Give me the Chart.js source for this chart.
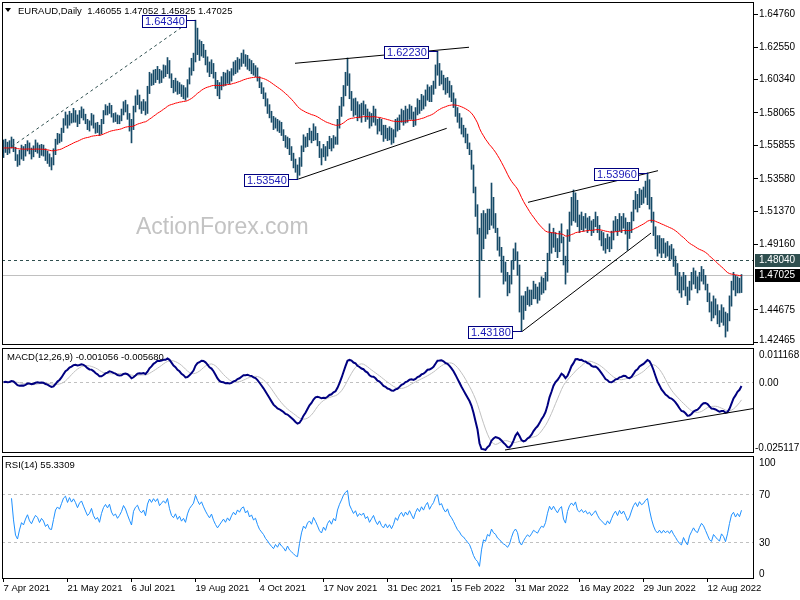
<!DOCTYPE html>
<html>
<head>
<meta charset="utf-8">
<script src="https://cdn.jsdelivr.net/npm/chart.js@4.4.1/dist/chart.umd.min.js"></script>
<style>
  html, body { margin: 0; padding: 0; background: #fff; }
  #wrap { position: relative; width: 800px; height: 600px; overflow: hidden; background: #fff; }
  #wrap canvas { position: absolute; left: 0; }
</style>
</head>
<body>
<div id="wrap">
  <canvas id="price" width="800" height="347" style="top:0"></canvas>
  <canvas id="macd" width="800" height="108" style="top:347px"></canvas>
  <canvas id="rsi" width="800" height="145" style="top:455px"></canvas>
</div>
<script>
// EURAUD daily, 7 Apr 2021 .. early Sep 2022 (one value per trading day)
const closes = [
  1.5565, 1.5590, 1.5545, 1.5580, 1.5610, 1.5560, 1.5495, 1.5470, 1.5505, 1.5540,
  1.5525, 1.5560, 1.5590, 1.5545, 1.5520, 1.5555, 1.5585, 1.5570, 1.5530, 1.5560,
  1.5540, 1.5495, 1.5510, 1.5470, 1.5465, 1.5530, 1.5610, 1.5640, 1.5625, 1.5680,
  1.5745, 1.5770, 1.5730, 1.5790, 1.5760, 1.5800, 1.5775, 1.5740, 1.5790, 1.5815,
  1.5780, 1.5745, 1.5710, 1.5730, 1.5775, 1.5720, 1.5690, 1.5705, 1.5665, 1.5740,
  1.5800, 1.5835, 1.5810, 1.5850, 1.5790, 1.5760, 1.5775, 1.5740, 1.5765, 1.5800,
  1.5860, 1.5835, 1.5790, 1.5745, 1.5700, 1.5830, 1.5880, 1.5905, 1.5860, 1.5840,
  1.5870, 1.5820, 1.5960, 1.6040, 1.6010, 1.6070, 1.6045, 1.6090, 1.6030, 1.6065,
  1.6100, 1.6080, 1.6150, 1.6060, 1.5990, 1.5965, 1.6010, 1.5950, 1.5985, 1.5930,
  1.5960, 1.5915, 1.6010, 1.6080, 1.6120, 1.6160, 1.6300, 1.6250, 1.6210, 1.6255,
  1.6205, 1.6160, 1.6120, 1.6085, 1.6130, 1.6060, 1.6005, 1.5960, 1.5990, 1.6020,
  1.6050, 1.6015, 1.6060, 1.6030, 1.6080, 1.6120, 1.6095, 1.6150, 1.6130, 1.6175,
  1.6190, 1.6140, 1.6165, 1.6110, 1.6130, 1.6085, 1.6100, 1.6040, 1.5990, 1.5960,
  1.5930, 1.5880, 1.5845, 1.5800, 1.5760, 1.5720, 1.5745, 1.5700, 1.5725, 1.5680,
  1.5650, 1.5590, 1.5620, 1.5550, 1.5510, 1.5470, 1.5420, 1.5400, 1.5480, 1.5560,
  1.5620, 1.5590, 1.5640, 1.5660, 1.5625, 1.5690, 1.5650, 1.5600, 1.5540, 1.5510,
  1.5560, 1.5520, 1.5580, 1.5610, 1.5570, 1.5625, 1.5600, 1.5720, 1.5800, 1.5870,
  1.5960, 1.6020, 1.6060, 1.5920, 1.5870, 1.5820, 1.5860, 1.5790, 1.5830, 1.5810,
  1.5840, 1.5775, 1.5800, 1.5730, 1.5770, 1.5810, 1.5745, 1.5700, 1.5740, 1.5680,
  1.5650, 1.5690, 1.5640, 1.5670, 1.5620, 1.5660, 1.5730, 1.5700, 1.5760, 1.5790,
  1.5750, 1.5800, 1.5770, 1.5820, 1.5780, 1.5740, 1.5810, 1.5860, 1.5830, 1.5890,
  1.5860, 1.5920, 1.5960, 1.5900, 1.5950, 1.5990, 1.6080, 1.6120, 1.6030, 1.6050,
  1.6000, 1.5970, 1.6010, 1.5950, 1.5920, 1.5880, 1.5830, 1.5780, 1.5750, 1.5700,
  1.5680, 1.5640, 1.5600, 1.5560, 1.5460, 1.5300, 1.5150, 1.5050, 1.4700, 1.4900,
  1.5050, 1.5000, 1.5110, 1.5060, 1.5180, 1.5080, 1.5040, 1.4930, 1.4880, 1.4800,
  1.4740, 1.4700, 1.4620, 1.4660, 1.4750, 1.4830, 1.4870, 1.4790, 1.4520, 1.4420,
  1.4480, 1.4530, 1.4570, 1.4520, 1.4560, 1.4610, 1.4580, 1.4550, 1.4600, 1.4640,
  1.4620, 1.4680, 1.4820, 1.4950, 1.4900, 1.4970, 1.4920, 1.4880, 1.4950, 1.4990,
  1.4810, 1.4740, 1.4950, 1.5080, 1.5150, 1.5110, 1.5200, 1.5070, 1.5040, 1.5090,
  1.5040, 1.5080, 1.5030, 1.5060, 1.5010, 1.5050, 1.5090, 1.5030, 1.4980, 1.4950,
  1.4920, 1.4890, 1.4940, 1.4900, 1.4960, 1.5020, 1.5060, 1.5010, 1.5080, 1.5040,
  1.5080, 1.5030, 1.4970, 1.5010, 1.5090, 1.5170, 1.5220, 1.5180, 1.5260, 1.5230,
  1.5250, 1.5300, 1.5330, 1.5220, 1.5110, 1.5010, 1.4930, 1.4890, 1.4920, 1.4870,
  1.4900, 1.4860, 1.4880, 1.4840, 1.4870, 1.4810, 1.4760, 1.4700, 1.4650, 1.4620,
  1.4680, 1.4600, 1.4540, 1.4620, 1.4660, 1.4700, 1.4650, 1.4630, 1.4680, 1.4720,
  1.4690, 1.4630, 1.4560, 1.4480, 1.4450, 1.4510, 1.4470, 1.4430, 1.4400, 1.4460,
  1.4420, 1.4330, 1.4400, 1.4510, 1.4620, 1.4660, 1.4600, 1.4650, 1.4610, 1.47025
];
const highs = [
  1.5620, 1.5625, 1.5605, 1.5615, 1.5640, 1.5625, 1.5570, 1.5520, 1.5550, 1.5585,
  1.5575, 1.5590, 1.5615, 1.5600, 1.5565, 1.5580, 1.5620, 1.5600, 1.5585, 1.5590,
  1.5585, 1.5560, 1.5545, 1.5525, 1.5500, 1.5560, 1.5625, 1.5665, 1.5660, 1.5700,
  1.5765, 1.5810, 1.5790, 1.5815, 1.5800, 1.5835, 1.5820, 1.5790, 1.5820, 1.5845,
  1.5830, 1.5795, 1.5760, 1.5750, 1.5800, 1.5790, 1.5735, 1.5740, 1.5720, 1.5760,
  1.5820, 1.5860, 1.5850, 1.5870, 1.5855, 1.5800, 1.5805, 1.5790, 1.5785, 1.5830,
  1.5880, 1.5890, 1.5860, 1.5800, 1.5760, 1.5850, 1.5920, 1.5960, 1.5925, 1.5880,
  1.5895, 1.5880, 1.5985, 1.6080, 1.6070, 1.6095, 1.6100, 1.6120, 1.6100, 1.6090,
  1.6130, 1.6125, 1.6180, 1.6160, 1.6070, 1.6025, 1.6040, 1.6020, 1.6010, 1.5995,
  1.5990, 1.5975, 1.6030, 1.6110, 1.6175, 1.6210, 1.6434, 1.6380, 1.6300, 1.6290,
  1.6270, 1.6230, 1.6185, 1.6150, 1.6165, 1.6140, 1.6080, 1.6025, 1.6010, 1.6050,
  1.6080, 1.6075, 1.6095, 1.6085, 1.6105, 1.6150, 1.6160, 1.6180, 1.6170, 1.6210,
  1.6232, 1.6200, 1.6195, 1.6170, 1.6160, 1.6140, 1.6125, 1.6110, 1.6050, 1.6010,
  1.5975, 1.5940, 1.5900, 1.5860, 1.5815, 1.5780, 1.5770, 1.5760, 1.5750, 1.5740,
  1.5690, 1.5650, 1.5640, 1.5630, 1.5575, 1.5530, 1.5490, 1.5450, 1.5500, 1.5580,
  1.5655, 1.5640, 1.5665, 1.5700, 1.5680, 1.5730, 1.5710, 1.5665, 1.5610, 1.5560,
  1.5590, 1.5575, 1.5610, 1.5645, 1.5630, 1.5650, 1.5640, 1.5760, 1.5850, 1.5910,
  1.5990, 1.6080, 1.6177, 1.6070, 1.5950, 1.5900, 1.5905, 1.5880, 1.5860, 1.5870,
  1.5885, 1.5860, 1.5830, 1.5810, 1.5800, 1.5850, 1.5830, 1.5760, 1.5770, 1.5760,
  1.5720, 1.5720, 1.5700, 1.5710, 1.5700, 1.5690, 1.5760, 1.5770, 1.5790, 1.5830,
  1.5820, 1.5850, 1.5830, 1.5860, 1.5850, 1.5810, 1.5840, 1.5900, 1.5890, 1.5930,
  1.5920, 1.5960, 1.5995, 1.5980, 1.5990, 1.6020, 1.6130, 1.6223, 1.6140, 1.6090,
  1.6060, 1.6040, 1.6045, 1.6020, 1.5990, 1.5940, 1.5900, 1.5840, 1.5800, 1.5770,
  1.5720, 1.5700, 1.5660, 1.5600, 1.5550, 1.5450, 1.5300, 1.5180, 1.5020, 1.5120,
  1.5140, 1.5120, 1.5150, 1.5150, 1.5327, 1.5230, 1.5120, 1.5020, 1.4960, 1.4890,
  1.4830, 1.4790, 1.4720, 1.4700, 1.4800, 1.4880, 1.4920, 1.4860, 1.4770, 1.4560,
  1.4560, 1.4590, 1.4620, 1.4600, 1.4600, 1.4660, 1.4640, 1.4620, 1.4650, 1.4690,
  1.4680, 1.4720, 1.4850, 1.5050, 1.4990, 1.5020, 1.4990, 1.4950, 1.5000, 1.5050,
  1.4960, 1.4830, 1.5010, 1.5130, 1.5230, 1.5280, 1.5260, 1.5210, 1.5110, 1.5130,
  1.5100, 1.5120, 1.5090, 1.5100, 1.5070, 1.5080, 1.5130, 1.5100, 1.5040, 1.5000,
  1.4990, 1.4950, 1.4980, 1.4960, 1.5000, 1.5070, 1.5100, 1.5080, 1.5120, 1.5100,
  1.5120, 1.5090, 1.5060, 1.5060, 1.5130, 1.5210, 1.5270, 1.5250, 1.5290, 1.5280,
  1.5300, 1.5340, 1.5396, 1.5350, 1.5230, 1.5130, 1.5030, 1.4970, 1.4970, 1.4950,
  1.4950, 1.4920, 1.4930, 1.4900, 1.4910, 1.4880, 1.4830, 1.4780, 1.4720, 1.4690,
  1.4720, 1.4700, 1.4620, 1.4660, 1.4720, 1.4750, 1.4730, 1.4690, 1.4720, 1.4760,
  1.4740, 1.4700, 1.4640, 1.4580, 1.4520, 1.4560, 1.4540, 1.4500, 1.4460, 1.4500,
  1.4480, 1.4450, 1.4440, 1.4560, 1.4660, 1.4720, 1.4700, 1.4690, 1.4680, 1.47052
];
const lows = [
  1.5500, 1.5535, 1.5520, 1.5530, 1.5565, 1.5540, 1.5480, 1.5440, 1.5450, 1.5490,
  1.5480, 1.5510, 1.5545, 1.5525, 1.5490, 1.5505, 1.5540, 1.5530, 1.5500, 1.5515,
  1.5510, 1.5480, 1.5460, 1.5440, 1.5416, 1.5450, 1.5520, 1.5590, 1.5600, 1.5610,
  1.5670, 1.5720, 1.5700, 1.5720, 1.5735, 1.5740, 1.5740, 1.5710, 1.5730, 1.5770,
  1.5755, 1.5730, 1.5690, 1.5680, 1.5720, 1.5700, 1.5665, 1.5670, 1.5650, 1.5660,
  1.5730, 1.5790, 1.5790, 1.5800, 1.5775, 1.5740, 1.5745, 1.5730, 1.5730, 1.5750,
  1.5790, 1.5810, 1.5760, 1.5680, 1.5600, 1.5690, 1.5810, 1.5860, 1.5830, 1.5800,
  1.5820, 1.5790, 1.5800, 1.5935, 1.5990, 1.5995, 1.6010, 1.6030, 1.6005, 1.6010,
  1.6040, 1.6050, 1.6070, 1.6040, 1.5975, 1.5940, 1.5950, 1.5930, 1.5935, 1.5915,
  1.5900, 1.5890, 1.5910, 1.6000, 1.6060, 1.6090, 1.6150, 1.6200, 1.6160, 1.6190,
  1.6180, 1.6130, 1.6080, 1.6050, 1.6070, 1.6040, 1.5970, 1.5920, 1.5900, 1.5960,
  1.5985, 1.5990, 1.6005, 1.6000, 1.6020, 1.6060, 1.6070, 1.6080, 1.6100, 1.6120,
  1.6140, 1.6120, 1.6100, 1.6090, 1.6070, 1.6060, 1.6050, 1.6020, 1.5975, 1.5935,
  1.5900, 1.5850, 1.5800, 1.5770, 1.5740, 1.5690, 1.5700, 1.5680, 1.5670, 1.5650,
  1.5615, 1.5570, 1.5560, 1.5520, 1.5480, 1.5430, 1.5400, 1.5354, 1.5380, 1.5440,
  1.5540, 1.5570, 1.5575, 1.5620, 1.5600, 1.5615, 1.5620, 1.5580, 1.5500, 1.5450,
  1.5505, 1.5480, 1.5510, 1.5560, 1.5545, 1.5565, 1.5590, 1.5590, 1.5700, 1.5780,
  1.5850, 1.5920, 1.5990, 1.5900, 1.5820, 1.5780, 1.5790, 1.5750, 1.5770, 1.5740,
  1.5790, 1.5745, 1.5760, 1.5700, 1.5715, 1.5740, 1.5720, 1.5660, 1.5680, 1.5655,
  1.5610, 1.5630, 1.5615, 1.5620, 1.5590, 1.5600, 1.5640, 1.5680, 1.5690, 1.5740,
  1.5720, 1.5735, 1.5740, 1.5760, 1.5760, 1.5710, 1.5720, 1.5790, 1.5800, 1.5820,
  1.5830, 1.5850, 1.5890, 1.5880, 1.5880, 1.5930, 1.5970, 1.6060, 1.5990, 1.6000,
  1.5960, 1.5930, 1.5940, 1.5910, 1.5880, 1.5840, 1.5780, 1.5740, 1.5700, 1.5660,
  1.5640, 1.5600, 1.5560, 1.5520, 1.5420, 1.5260, 1.5100, 1.4980, 1.4550, 1.4800,
  1.4880, 1.4950, 1.4980, 1.5010, 1.5040, 1.5020, 1.4990, 1.4870, 1.4830, 1.4720,
  1.4640, 1.4660, 1.4560, 1.4580, 1.4640, 1.4740, 1.4800, 1.4700, 1.4450, 1.4318,
  1.4400, 1.4460, 1.4500, 1.4490, 1.4500, 1.4540, 1.4540, 1.4510, 1.4530, 1.4570,
  1.4580, 1.4600, 1.4660, 1.4800, 1.4850, 1.4890, 1.4860, 1.4820, 1.4860, 1.4920,
  1.4770, 1.4640, 1.4720, 1.4930, 1.5040, 1.5070, 1.5060, 1.5030, 1.4990, 1.5010,
  1.5000, 1.5020, 1.4990, 1.5010, 1.4970, 1.4990, 1.5030, 1.4990, 1.4940, 1.4900,
  1.4870, 1.4850, 1.4880, 1.4860, 1.4880, 1.4940, 1.5000, 1.4970, 1.5000, 1.4990,
  1.5020, 1.4980, 1.4870, 1.4950, 1.4990, 1.5070, 1.5150, 1.5130, 1.5160, 1.5180,
  1.5190, 1.5230, 1.5180, 1.5150, 1.5060, 1.4970, 1.4880, 1.4830, 1.4850, 1.4820,
  1.4850, 1.4820, 1.4830, 1.4800, 1.4810, 1.4760, 1.4700, 1.4600, 1.4580, 1.4550,
  1.4600, 1.4560, 1.4500, 1.4530, 1.4600, 1.4640, 1.4610, 1.4580, 1.4600, 1.4660,
  1.4640, 1.4600, 1.4520, 1.4450, 1.4390, 1.4410, 1.4430, 1.4370, 1.4350, 1.4380,
  1.4360, 1.4280, 1.4320, 1.4390, 1.4490, 1.4600, 1.4560, 1.4580, 1.4580, 1.45825
];

// x-axis date labels (every 32nd bar)
const dateTicks = [0, 32, 64, 96, 128, 160, 192, 224, 256, 288, 320, 352];
const dateLabels = ['7 Apr 2021', '21 May 2021', '6 Jul 2021', '19 Aug 2021', '4 Oct 2021', '17 Nov 2021',
  '31 Dec 2021', '15 Feb 2022', '31 Mar 2022', '16 May 2022', '29 Jun 2022', '12 Aug 2022'];

// right-axis labels
const priceTicks = [1.64760, 1.62550, 1.60340, 1.58065, 1.55855, 1.53580, 1.51370, 1.49160, 1.44675, 1.42465];
const macdTicks = [0.011168, 0, -0.025117];
const macdTickText = ['0.011168', '0.00', '-0.025117'];
const rsiTicks = [100, 70, 30, 0];

// marked swing points
const pivotIdx = [96, 147, 217, 259, 322];
const pivotPrice = [1.64340, 1.53540, 1.62230, 1.43180, 1.53960];

// drawn trend lines: [startBar, startValue, endBar, endValue]
const trendLines = [
  [1.75, 1.5552, 92.4, 1.6417],
  [147.4, 1.5354, 221.6, 1.5699],
  [145.75, 1.6141, 232.75, 1.6250],
  [259.3, 1.4318, 323.75, 1.4987],
  [262.25, 1.5196, 327.25, 1.5411]
];
const macdTrend = [250.75, -0.02451, 375.75, -0.00942];
const resistLevel = 1.48040;
const lastPrice = 1.47025;

// indicators
function ema(src, n) {
  const k = 2 / (n + 1), out = [src[0]];
  for (let i = 1; i < src.length; i++) out.push(out[i - 1] + k * (src[i] - out[i - 1]));
  return out;
}
const ma55 = ema(closes, 55);
const e12 = ema(closes, 12), e26 = ema(closes, 26);
const macdMain = closes.map((c, i) => e12[i] - e26[i]);
const macdSignal = macdMain.map((m, i) => {
  const s = Math.max(0, i - 8);
  let sum = 0;
  for (let j = s; j <= i; j++) sum += macdMain[j];
  return sum / (i - s + 1);
});
const rsi = [];
let avgGain = 0, avgLoss = 0;
closes.forEach((c, i) => {
  if (i === 0) { rsi.push(null); return; }
  const d = c - closes[i - 1], g = Math.max(d, 0), l = Math.max(-d, 0);
  if (i <= 14) { avgGain = (avgGain * (i - 1) + g) / i; avgLoss = (avgLoss * (i - 1) + l) / i; }
  else { avgGain = (avgGain * 13 + g) / 14; avgLoss = (avgLoss * 13 + l) / 14; }
  rsi.push(i < 4 ? null : (avgLoss === 0 ? 100 : 100 - 100 / (1 + avgGain / avgLoss)));
});

const FONT = '"Liberation Sans", Arial, sans-serif';
const pts = arr => arr.map((v, i) => ({ x: i, y: v }));

// draws the MT4-like decorations through the chart's scales
const mt = {
  id: 'mt',
  beforeDatasetsDraw(chart, args, o) {
    const { ctx, chartArea: a } = chart, y = chart.scales.y;
    ctx.save();
    if (o.watermark) {
      ctx.font = '23px ' + FONT;
      ctx.fillStyle = '#c3c3c3';
      ctx.textBaseline = 'alphabetic';
      ctx.fillText(o.watermark, 136, 234);
    }
    (o.hlines || []).forEach(h => {
      const py = Math.round(y.getPixelForValue(h.v)) + 0.5;
      ctx.beginPath();
      ctx.setLineDash(h.dash || []);
      ctx.strokeStyle = h.color;
      ctx.lineWidth = 1;
      ctx.moveTo(a.left, py);
      ctx.lineTo(a.right, py);
      ctx.stroke();
    });
    ctx.restore();
  },
  afterDatasetsDraw(chart, args, o) {
    const { ctx, chartArea: a } = chart, x = chart.scales.x, y = chart.scales.y;
    ctx.save();
    ctx.beginPath();
    ctx.rect(a.left, a.top, a.right - a.left, a.bottom - a.top);
    ctx.clip();
    (o.lines || []).forEach(t => {
      ctx.beginPath();
      ctx.setLineDash(t.dash || []);
      ctx.strokeStyle = t.color || '#000';
      ctx.lineWidth = 1;
      ctx.moveTo(x.getPixelForValue(t.p[0]), y.getPixelForValue(t.p[1]));
      ctx.lineTo(x.getPixelForValue(t.p[2]), y.getPixelForValue(t.p[3]));
      ctx.stroke();
    });
    ctx.restore();

    ctx.save();
    ctx.setLineDash([]);
    ctx.lineWidth = 1;
    ctx.font = '11px ' + FONT;
    ctx.textBaseline = 'middle';
    ctx.textAlign = 'left';
    (o.pivots || []).forEach(p => {
      const px = Math.round(x.getPixelForValue(p.i)), py = Math.round(y.getPixelForValue(p.v));
      const w = Math.ceil(ctx.measureText(p.text).width) + 5, h = 13;
      const bx = px - 9 - w, by = py - 5;
      ctx.fillStyle = '#fff';
      ctx.fillRect(bx, by, w, h);
      ctx.strokeStyle = '#000080';
      ctx.strokeRect(bx + 0.5, by + 0.5, w - 1, h - 1);
      ctx.beginPath();
      ctx.moveTo(bx + w, py + 0.5);
      ctx.lineTo(px, py + 0.5);
      ctx.stroke();
      ctx.fillStyle = '#1a1ab8';
      ctx.fillText(p.text, bx + 3, by + h / 2 + 0.5);
    });

    // panel frame
    ctx.strokeStyle = '#000';
    ctx.strokeRect(a.left + 0.5, a.top + 0.5, a.right - a.left - 1, a.bottom - a.top - 1);

    // right axis labels
    ctx.font = '10px ' + FONT;
    (o.axis || []).forEach(t => {
      const py = y.getPixelForValue(t.v);
      const ly = Math.min(Math.max(py, a.top + 7), a.bottom - 5);
      if (t.tick) {
        ctx.strokeStyle = '#000';
        ctx.beginPath();
        ctx.moveTo(a.right, Math.round(py) + 0.5);
        ctx.lineTo(a.right + 4, Math.round(py) + 0.5);
        ctx.stroke();
      }
      if (t.bg) {
        ctx.fillStyle = t.bg;
        ctx.fillRect(a.right + 1, Math.round(ly) - 6, chart.width - a.right - 1, 13);
      }
      ctx.fillStyle = t.fg || '#000';
      const tx = t.text.charAt(0) === '-' ? a.right + 1 : a.right + 5;
      ctx.fillText(t.text, tx, ly + 0.5);
    });

    // panel caption
    if (o.caption) {
      ctx.font = '9.5px ' + FONT;
      ctx.fillStyle = '#000';
      if (o.caption.arrow) {
        ctx.beginPath();
        ctx.moveTo(5, 8); ctx.lineTo(11, 8); ctx.lineTo(8, 12); ctx.closePath();
        ctx.fill();
      }
      ctx.fillText(o.caption.text, o.caption.x, o.caption.y);
    }
    ctx.restore();
  }
};

function xScale(show) {
  const s = {
    type: 'linear', min: -0.75, max: 375.25, bounds: 'data', offset: false, display: show,
    afterBuildTicks: sc => { sc.ticks = dateTicks.map(v => ({ value: v })); },
    ticks: {
      autoSkip: false, maxRotation: 0, minRotation: 0, align: 'start', padding: 1,
      color: '#000', font: { family: FONT, size: 9.5 },
      callback: (v, i) => dateLabels[i]
    },
    grid: { offset: false, drawOnChartArea: false, drawTicks: true, tickLength: 3, color: '#000' },
    border: { display: false }
  };
  if (show) s.afterFit = sc => { sc.height = 21; sc.paddingLeft = 0; sc.paddingRight = 0; };
  return s;
}

function baseOptions(yMin, yMax, padTop, padBottom, showX, mtOpts) {
  return {
    responsive: false, animation: false, devicePixelRatio: 1, events: [],
    layout: { padding: { left: 2, right: 46, top: padTop, bottom: padBottom } },
    plugins: { legend: { display: false }, tooltip: { enabled: false }, mt: mtOpts },
    scales: {
      x: xScale(showX),
      y: { type: 'linear', display: false, min: yMin, max: yMax, bounds: 'data' }
    }
  };
}

const priceAxis = priceTicks.map(v => ({ v, text: v.toFixed(5), tick: true }));
priceAxis.push({ v: resistLevel, text: resistLevel.toFixed(5), tick: false, bg: '#2f4f4f', fg: '#fff' });
priceAxis.push({ v: lastPrice, text: lastPrice.toFixed(5), tick: false, bg: '#000', fg: '#fff' });

new Chart(document.getElementById('price'), {
  type: 'bar',
  data: {
    datasets: [
      {
        type: 'line', data: pts(ma55), borderColor: '#ff0000', borderWidth: 1,
        pointRadius: 0, tension: 0, order: 0
      },
      {
        type: 'bar', data: closes.map((c, i) => ({ x: i, y: [lows[i], highs[i]] })),
        backgroundColor: '#174b68', borderWidth: 0, barThickness: 1, order: 1
      }
    ]
  },
  options: baseOptions(1.42261, 1.65576, 2, 2, false, {
    watermark: 'ActionForex.com',
    hlines: [
      { v: lastPrice, color: '#c0c0c0' },
      { v: resistLevel, color: '#2f4f4f', dash: [3, 3] }
    ],
    lines: trendLines.map((p, k) => ({ p, color: k === 0 ? '#2f4f4f' : '#000', dash: k === 0 ? [3, 3] : [] })),
    pivots: pivotIdx.map((i, k) => ({ i, v: pivotPrice[k], text: pivotPrice[k].toFixed(5) })),
    axis: priceAxis,
    caption: { text: 'EURAUD,Daily  1.46055 1.47052 1.45825 1.47025', x: 18, y: 11, arrow: true }
  }),
  plugins: [mt]
});

new Chart(document.getElementById('macd'), {
  type: 'line',
  data: {
    datasets: [
      { data: pts(macdMain), borderColor: '#000080', borderWidth: 2, pointRadius: 0, tension: 0, order: 0 },
      { data: pts(macdSignal), borderColor: '#c0c0c0', borderWidth: 1, pointRadius: 0, tension: 0, order: 1 }
    ]
  },
  options: baseOptions(-0.0256, 0.0124, 1, 2, false, {
    hlines: [{ v: 0, color: '#c0c0c0', dash: [3, 3] }],
    lines: [{ p: macdTrend, color: '#000' }],
    axis: macdTicks.map((v, k) => ({ v, text: macdTickText[k] })),
    caption: { text: 'MACD(12,26,9) -0.001056 -0.005680', x: 7, y: 10 }
  }),
  plugins: [mt]
});

new Chart(document.getElementById('rsi'), {
  type: 'line',
  data: {
    datasets: [
      { data: pts(rsi), borderColor: '#1e90ff', borderWidth: 1, pointRadius: 0, tension: 0 }
    ]
  },
  options: baseOptions(-0.6, 101.9, 1, 0, true, {
    hlines: [{ v: 70, color: '#c0c0c0', dash: [3, 3] }, { v: 30, color: '#c0c0c0', dash: [3, 3] }],
    axis: rsiTicks.map(v => ({ v, text: String(v) })),
    caption: { text: 'RSI(14) 55.3309', x: 5, y: 10 }
  }),
  plugins: [mt]
});
</script>
</body>
</html>
